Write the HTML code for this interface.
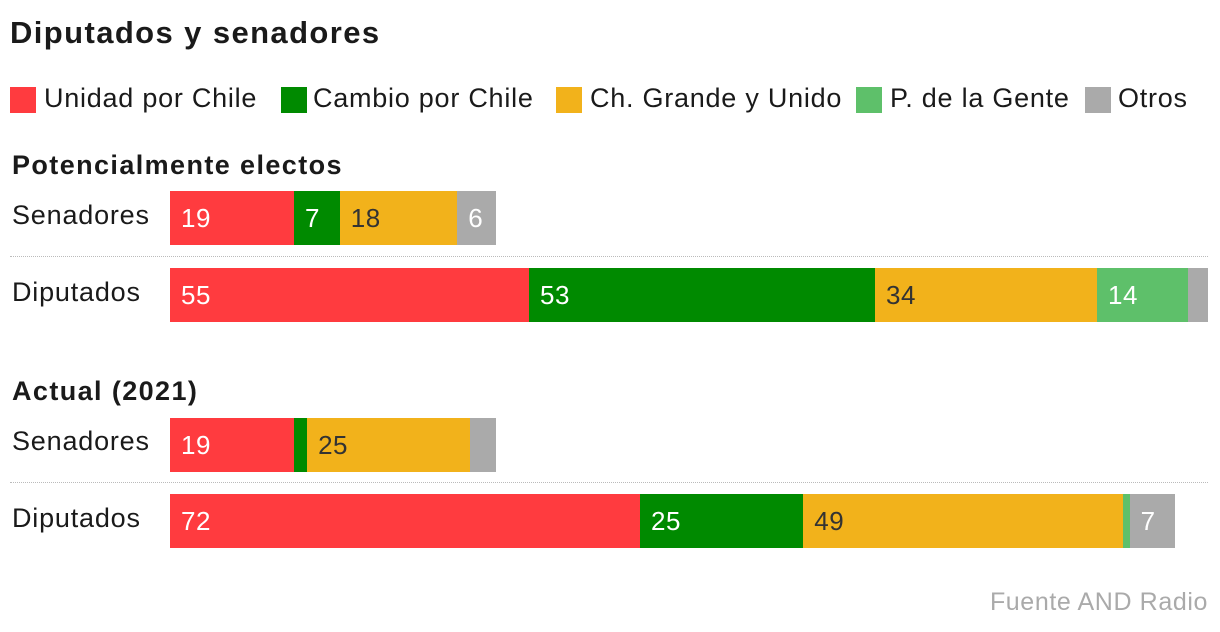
<!DOCTYPE html>
<html><head><meta charset="utf-8">
<style>
body{margin:0;background:#fff;width:1220px;height:632px;overflow:hidden;font-family:"Liberation Sans",sans-serif;color:#1a1a1a;position:relative}
.abs{position:absolute;white-space:nowrap}
.sq{position:absolute;width:26px;height:26px;top:87px}
.leg{position:absolute;top:83px;font-size:27px;letter-spacing:0.75px}
.row{position:absolute;left:12px;font-size:27px;letter-spacing:0.8px}
.sep{position:absolute;left:10px;width:1198px;border-top:1px dotted #bbb}
.h{position:absolute;left:12px;font-size:27px;font-weight:bold;letter-spacing:1.4px}
</style></head><body>
<div class="abs" style="left:10px;top:15px;font-size:31px;font-weight:bold;letter-spacing:1.4px">Diputados y senadores</div>
<div>
<div class="sq" style="left:10px;background:#ff3b3f"></div><div class="leg" style="left:44px">Unidad por Chile</div>
<div class="sq" style="left:281px;background:#008a00"></div><div class="leg" style="left:313px">Cambio por Chile</div>
<div class="sq" style="left:556px;background:#f2b21b"></div><div class="leg" style="left:590px">Ch. Grande y Unido</div>
<div class="sq" style="left:856px;background:#5ec06a"></div><div class="leg" style="left:890px">P. de la Gente</div>
<div class="sq" style="left:1085px;background:#aaaaaa"></div><div class="leg" style="left:1118px">Otros</div>
</div>
<div class="h" style="top:150px">Potencialmente electos</div>
<div class="h" style="top:376px">Actual (2021)</div>
<div class="row" style="top:200px">Senadores</div>
<div class="row" style="top:277px">Diputados</div>
<div class="row" style="top:426px">Senadores</div>
<div class="row" style="top:503px">Diputados</div>
<div class="sep" style="top:256px"></div>
<div class="sep" style="top:482px"></div>
<div id="bars"></div>
<div class="abs" style="right:12px;top:588px;font-size:25px;letter-spacing:0.6px;color:#aaa">Fuente AND Radio</div>
<script>
const parties=["Unidad por Chile","Cambio por Chile","Ch. Grande y Unido","P. de la Gente","Otros"];
const colors=["#ff3b3f","#008a00","#f2b21b","#5ec06a","#aaaaaa"];
const senPot=[19,7,18,0,6];
const dipPot=[55,53,34,14,3];
const senAct=[19,2,25,0,4];
const dipAct=[72,25,49,1,7];
const rows=[[senPot,191],[dipPot,268],[senAct,418],[dipAct,494]];
const x0=170, pxPer=1038/159;
const sx=v=>v*pxPer;
const host=document.getElementById('bars');
rows.forEach(([vals,top])=>{
  let x=x0;
  vals.forEach((v,i)=>{
    if(v<=0)return;
    const d=document.createElement('div');
    
    
    d.style.cssText=`position:absolute;left:${x}px;top:${top}px;width:${sx(v)}px;height:54px;background:${colors[i]};color:${i==2?'#333':'#fff'};font-size:26px;letter-spacing:0.5px;line-height:54px;box-sizing:border-box;padding-left:11px;overflow:hidden;white-space:nowrap`;
    if(v>=5)d.textContent=v;
    host.appendChild(d);
    x+=sx(v);
  });
});
</script>
</body></html>
